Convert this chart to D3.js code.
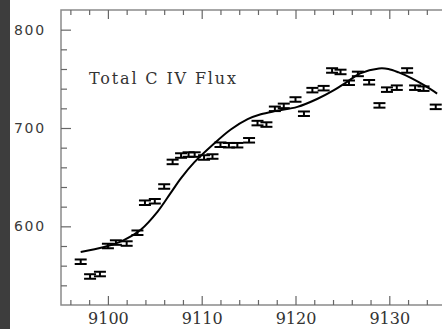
<!DOCTYPE html>
<html>
<head>
<meta charset="utf-8">
<script src="https://cdn.jsdelivr.net/npm/d3@7"></script>
<style>
    body { margin: 0; background: #fff; }
    svg { display: block; overflow: hidden; }
</style>
</head>
<body>
<svg id="chart"></svg>
<script>
// Observed flux points (wavelength, flux)
const obsX = [9097.1, 9098.1, 9099.15, 9100.0, 9100.85, 9102.0, 9103.15, 9103.95, 9105.0, 9106.0,
    9106.9, 9107.8, 9108.6, 9109.25, 9110.25, 9111.15, 9112.0, 9112.9, 9113.8, 9115.05,
    9115.95, 9116.9, 9117.8, 9118.75, 9120.0, 9120.9, 9121.8, 9123.0, 9123.9, 9124.8,
    9125.7, 9126.65, 9127.85, 9128.95, 9129.75, 9130.8, 9131.9, 9132.75, 9133.65, 9134.95];
const obsY = [564, 549, 551.5, 580, 583.5, 582.5, 593.5, 624, 625.5, 640.5,
    665.5, 672, 673, 673, 670, 671, 683, 682.5, 682.5, 687.5,
    705, 703.5, 719.5, 722.5, 729, 714.5, 738.5, 740.5, 758.5, 757,
    746, 755, 746.5, 723, 739, 741, 758.5, 741, 740, 721.5];
const obsErr = 2.3;

// Smooth model curve
const fitX = [9097.1, 9099.6, 9101.7, 9103.5, 9105.3, 9106.7, 9107.8, 9109.2, 9111.3, 9113.1,
    9114.9, 9116.3, 9118.0, 9120.2, 9122.3, 9124.1, 9125.5, 9126.9, 9128.9, 9129.9,
    9131.0, 9132.4, 9133.8, 9135.1];
const fitY = [574, 579, 586, 596.5, 615, 634, 649, 665, 684, 698.5,
    709, 714, 717.5, 721.5, 729.5, 738.5, 747, 755.5, 760.5, 760,
    756.5, 750.5, 743, 735];

const xMajor = [9100, 9110, 9120, 9130];
const yMajor = [600, 700, 800];

const W = 442, H = 329;
const margin = { top: 10, left: 61, bottom: 24 };
const plotW = 45 * 9.38;
const plotH = H - margin.top - margin.bottom;

const svg = d3.select("#chart")
    .attr("width", W)
    .attr("height", H);

// dark strip on the left edge
svg.append("rect")
    .attr("x", 0).attr("y", 0)
    .attr("width", 10).attr("height", H)
    .attr("fill", "#3d3d3d");

const g = svg.append("g")
    .attr("transform", `translate(${margin.left},${margin.top})`);

const x = d3.scaleLinear().domain([9095, 9140]).range([0, plotW]);
const y = d3.scaleLinear().domain([520, 820]).range([plotH, 0]);

const xMinor = d3.range(9096, 9140, 2).filter(v => !xMajor.includes(v));
const yMinor = d3.range(540, 820, 20).filter(v => !yMajor.includes(v));

// frame
g.append("rect")
    .attr("x", 0).attr("y", 0)
    .attr("width", plotW).attr("height", plotH)
    .attr("fill", "none")
    .attr("stroke", "#8a8a8a")
    .attr("stroke-width", 1.5);

function styleAxis(sel) {
    sel.select(".domain").remove();
    sel.selectAll(".tick line").attr("stroke", "#666").attr("stroke-width", 1.2);
}

// left axis
g.append("g")
    .call(d3.axisLeft(y).tickValues(yMajor).tickSize(-10).tickPadding(15))
    .call(styleAxis)
    .selectAll("text")
    .attr("fill", "#3a3a3a")
    .style("font-family", "'DejaVu Sans', sans-serif")
    .style("font-size", "14px")
    .style("letter-spacing", "1.8px");
g.append("g")
    .call(d3.axisLeft(y).tickValues(yMinor).tickSize(-6).tickFormat(""))
    .call(styleAxis);

// bottom axis
g.append("g")
    .attr("transform", `translate(0,${plotH})`)
    .call(d3.axisBottom(x).tickValues(xMajor).tickSize(-9).tickPadding(8).tickFormat(d3.format("d")))
    .call(styleAxis)
    .selectAll("text")
    .attr("fill", "#333")
    .style("font-family", "'DejaVu Serif', serif")
    .style("font-size", "16px");
g.append("g")
    .attr("transform", `translate(0,${plotH})`)
    .call(d3.axisBottom(x).tickValues(xMinor).tickSize(-5).tickFormat(""))
    .call(styleAxis);

// top axis
g.append("g")
    .call(d3.axisTop(x).tickValues(xMajor).tickSize(-9).tickFormat(""))
    .call(styleAxis);
g.append("g")
    .call(d3.axisTop(x).tickValues(xMinor).tickSize(-5).tickFormat(""))
    .call(styleAxis);

// model curve
const fit = fitX.map((v, i) => [v, fitY[i]]);
g.append("path")
    .datum(fit)
    .attr("fill", "none")
    .attr("stroke", "#000")
    .attr("stroke-width", 2)
    .attr("d", d3.line().x(d => x(d[0])).y(d => y(d[1])).curve(d3.curveCatmullRom));

// error bars
const obs = obsX.map((v, i) => ({ x: v, y: obsY[i] }));
const capW = 6;
const bars = g.append("g")
    .attr("stroke", "#000")
    .attr("stroke-width", 2)
    .selectAll("g")
    .data(obs)
    .enter()
    .append("g");

bars.append("line")
    .attr("x1", d => x(d.x)).attr("x2", d => x(d.x))
    .attr("y1", d => y(d.y - obsErr)).attr("y2", d => y(d.y + obsErr));
bars.append("line")
    .attr("x1", d => x(d.x) - capW).attr("x2", d => x(d.x) + capW)
    .attr("y1", d => y(d.y + obsErr)).attr("y2", d => y(d.y + obsErr));
bars.append("line")
    .attr("x1", d => x(d.x) - capW).attr("x2", d => x(d.x) + capW)
    .attr("y1", d => y(d.y - obsErr)).attr("y2", d => y(d.y - obsErr));

// label
g.append("text")
    .attr("x", 89 - margin.left)
    .attr("y", 84 - margin.top)
    .attr("textLength", 147)
    .attr("lengthAdjust", "spacing")
    .attr("fill", "#333")
    .style("font-family", "'DejaVu Serif', serif")
    .style("font-size", "16px")
    .text("Total C IV Flux");
</script>
</body>
</html>
